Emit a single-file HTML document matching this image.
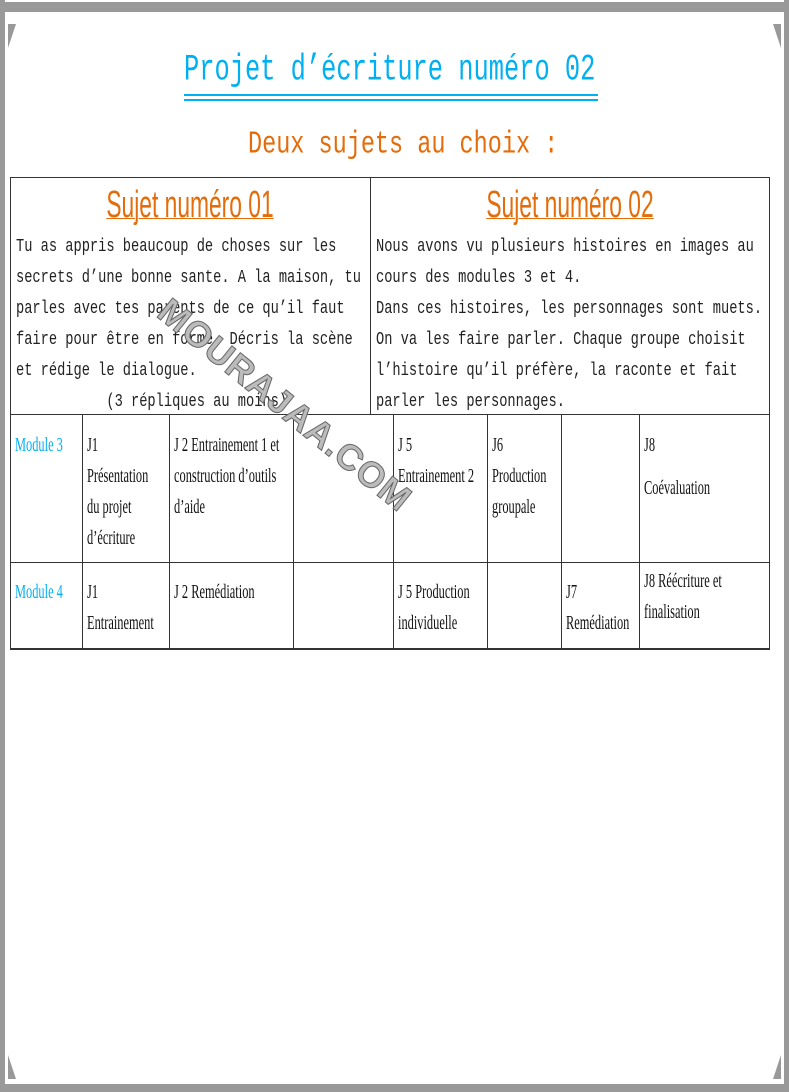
<!DOCTYPE html>
<html><head><meta charset="utf-8"><style>
body{margin:0;width:789px;height:1092px;position:relative;background:#fff;overflow:hidden;font-family:"Liberation Mono",monospace}
.a{position:absolute}
.bar{position:absolute;background:#999}
.mono{font-family:"Liberation Mono",monospace;font-size:13.7px;color:#222;white-space:nowrap;transform-origin:0 0;transform:scaleY(1.35)}
.l{position:absolute;background:#333}
.c{position:absolute;font-family:"Liberation Serif",serif;font-size:20px;color:#111;line-height:31px;transform-origin:0 0;transform:scaleX(0.62);white-space:nowrap}
.h{position:absolute;font-family:"Liberation Sans",sans-serif;font-size:38px;color:#e46c0a;text-decoration:underline;text-decoration-thickness:1px;transform:scaleX(0.6);white-space:nowrap;line-height:40px}
</style></head><body>
<div class="bar" style="left:0;top:2px;width:789px;height:10px"></div>
<div class="bar" style="left:0;top:1084px;width:789px;height:8px"></div>
<div class="bar" style="left:0;top:0;width:5px;height:1092px"></div>
<div class="bar" style="left:784px;top:0;width:5px;height:1092px"></div>
<svg class="a" style="left:0;top:0" width="789" height="1092">
<polygon points="8,24 16,24 8,48" fill="#999"/><polygon points="781,24 773,24 781,48" fill="#999"/>
<polygon points="8,1055 8,1079 16,1079" fill="#999"/><polygon points="781,1055 781,1079 773,1079" fill="#999"/>
</svg>
<div class="a" style="left:184px;top:49px;font-size:25.4px;color:#00b0f0;white-space:nowrap;transform-origin:0 0;transform:scaleY(1.45)">Projet d’écriture numéro 02</div>
<div class="a" style="left:184px;top:94px;width:414px;height:1.5px;background:#00b0f0"></div>
<div class="a" style="left:184px;top:99px;width:414px;height:1.5px;background:#00b0f0"></div>
<div class="a" style="left:248px;top:127px;font-size:23.5px;color:#e46c0a;white-space:nowrap;transform-origin:0 0;transform:scaleY(1.35)">Deux sujets au choix :</div>

<div class="l" style="left:10px;top:177px;width:760px;height:1px"></div>
<div class="l" style="left:10px;top:414px;width:760px;height:1px"></div>
<div class="l" style="left:10px;top:562px;width:760px;height:1px"></div>
<div class="l" style="left:10px;top:648px;width:760px;height:2px"></div>
<div class="l" style="left:10px;top:177px;width:1px;height:472px"></div>
<div class="l" style="left:769px;top:177px;width:1px;height:472px"></div>
<div class="l" style="left:370px;top:177px;width:1px;height:237px"></div>
<div class="l" style="left:82px;top:414px;width:1px;height:235px"></div>
<div class="l" style="left:169px;top:414px;width:1px;height:235px"></div>
<div class="l" style="left:293px;top:414px;width:1px;height:235px"></div>
<div class="l" style="left:393px;top:414px;width:1px;height:235px"></div>
<div class="l" style="left:487px;top:414px;width:1px;height:235px"></div>
<div class="l" style="left:561px;top:414px;width:1px;height:235px"></div>
<div class="l" style="left:639px;top:414px;width:1px;height:235px"></div>

<div class="h" style="left:10px;width:360px;top:185px;text-align:center">Sujet numéro 01</div>
<div class="h" style="left:390px;width:360px;top:185px;text-align:center">Sujet numéro 02</div>

<div class="a mono" style="left:16px;top:232px;line-height:23.1px">Tu as appris beaucoup de choses sur les<br>secrets d’une bonne sante. A la maison, tu<br>parles avec tes parents de ce qu’il faut<br>faire pour être en forme. Décris la scène<br>et rédige le dialogue.<br>&nbsp;&nbsp;&nbsp;&nbsp;&nbsp;&nbsp;&nbsp;&nbsp;&nbsp;&nbsp;&nbsp;(3 répliques au moins)</div>
<div class="a mono" style="left:376px;top:232px;line-height:23.1px">Nous avons vu plusieurs histoires en images au<br>cours des modules 3 et 4.<br>Dans ces histoires, les personnages sont muets.<br>On va les faire parler. Chaque groupe choisit<br>l’histoire qu’il préfère, la raconte et fait<br>parler les personnages.</div>

<div class="a" style="left:176px;top:290px;transform:rotate(39deg);transform-origin:0 0;font-family:'Liberation Sans',sans-serif;font-weight:bold;font-size:36px;letter-spacing:1px;color:#bbb;-webkit-text-stroke:1px #666;white-space:nowrap">MOURAJAA.COM</div>

<div class="c" style="left:15px;top:430px;color:#00b0f0">Module 3</div>
<div class="c" style="left:87px;top:430px">J1<br>Présentation<br>du projet<br>d’écriture</div>
<div class="c" style="left:174px;top:430px">J 2 Entrainement 1 et<br>construction d’outils<br>d’aide</div>
<div class="c" style="left:398px;top:430px">J 5<br>Entrainement 2</div>
<div class="c" style="left:492px;top:430px">J6<br>Production<br>groupale</div>
<div class="c" style="left:644px;top:430px">J8</div>
<div class="c" style="left:644px;top:473px">Coévaluation</div>

<div class="c" style="left:15px;top:577px;color:#00b0f0">Module 4</div>
<div class="c" style="left:87px;top:577px">J1<br>Entrainement</div>
<div class="c" style="left:174px;top:577px">J 2 Remédiation</div>
<div class="c" style="left:398px;top:577px">J 5 Production<br>individuelle</div>
<div class="c" style="left:566px;top:577px">J7<br>Remédiation</div>
<div class="c" style="left:644px;top:566px">J8 Réécriture et<br>finalisation</div>
</body></html>
